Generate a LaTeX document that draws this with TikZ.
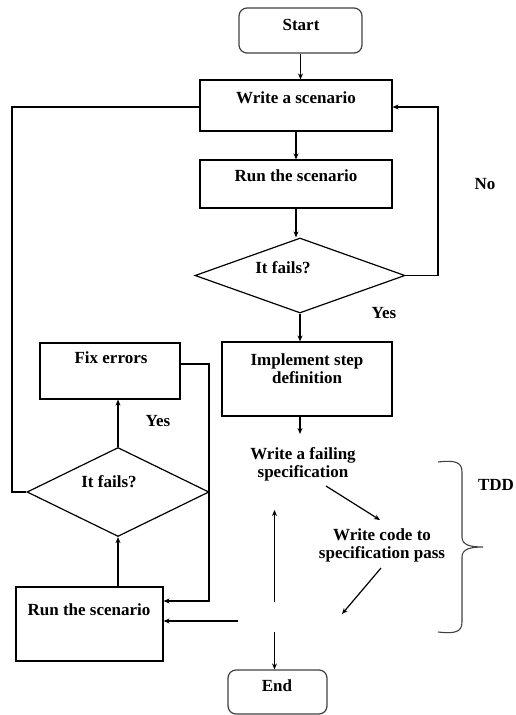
\documentclass[tikz,border=0pt]{standalone}
\usepackage{fontspec}
\setmainfont{Liberation Serif}
\usetikzlibrary{arrows.meta,shapes.geometric}
\begin{document}
\begin{tikzpicture}[x=1pt,y=-1pt,
  line width=1.2pt,
  >={Stealth[length=6pt,width=5pt]},
  txt/.style={font=\fontsize{17}{18}\selectfont\bfseries, inner sep=0pt, align=center},
  box/.style={draw, rectangle, inner sep=0pt},
  term/.style={draw, rectangle, rounded corners=8pt, inner sep=0pt, draw=black!75},
  dec/.style={draw, diamond, inner sep=0pt},
  flow/.style={->}]
\useasboundingbox (0,0) rectangle (515,715);

% main column
\node[term, minimum width=123pt, minimum height=45pt] (start) at (300.5,30.5) {};
\node[txt] (startt) at (301,25) {Start};
\node[box, minimum width=192pt, minimum height=51pt] (ws) at (296,105.5) {};
\node[txt] (wst) at (296,98) {Write a scenario};
\node[box, minimum width=192pt, minimum height=48pt] (rs) at (296,184) {};
\node[txt] (rst) at (296,176) {Run the scenario};
\node[dec, minimum width=210pt, minimum height=75pt] (d1) at (300,275.5) {};
\node[txt] (d1t) at (283,268) {It fails?};
\node[box, minimum width=170pt, minimum height=74pt] (isd) at (307,379) {};
\node[txt] (isdt) at (307,369) {Implement step\\definition};
\node[txt] (wfs) at (303,464) {Write a failing\\specification};
\node[txt] (wcp) at (382,545) {Write code to\\specification pass};
\node[term, minimum width=99pt, minimum height=44pt] (end) at (277.5,692) {};
\node[txt] (endt) at (277,686) {End};

% left column
\node[box, minimum width=140pt, minimum height=56pt] (fe) at (110,371) {};
\node[txt] (fet) at (111,358) {Fix errors};
\node[dec, minimum width=182pt, minimum height=89pt] (d2) at (118,492) {};
\node[txt] (d2t) at (109,482) {It fails?};
\node[box, minimum width=147pt, minimum height=74pt] (rs2) at (89.5,624) {};
\node[txt] (rs2t) at (89,610) {Run the scenario};

% branch labels
\node[txt] (no) at (485,184) {No};
\node[txt] (yes1) at (384,313) {Yes};
\node[txt] (yes2) at (158,421) {Yes};
\node[txt] (tdd) at (496,485) {TDD};

% main flow
\draw[flow] (start.south) -- (start.south |- ws.north);
\draw[flow] (ws) -- (rs);
\draw[flow] (rs.south) -- (rs.south |- d1.north);
\draw[flow] (d1.south) -- (d1.south |- isd.north);
\coordinate (isdend) at (300,434);
\draw[flow] (isd.south -| isdend) -- (isdend);
\draw[flow] (d1.east) -- (438,275.5) |- ([yshift=-1.5pt]ws.east);
\draw (d2.west) -- (12,492) |- ([yshift=-1.5pt]ws.west);

% TDD cycle
\coordinate (a1) at (326,486);
\coordinate (a2) at (380,520);
\draw[flow] (a1) -- (a2);
\coordinate (b1) at (381,568);
\coordinate (b2) at (342,614);
\draw[flow] (b1) -- (b2);
\coordinate (c1) at (274.5,602);
\coordinate (c2) at (274.5,510);
\draw[flow] (c1) -- (c2);
\coordinate (e1) at (274.5,632);
\draw[flow] (e1) -- (end.north -| e1);
\coordinate (m) at (238,621);
\draw[flow] (m) -- ([yshift=3pt]rs2.east);

% fix loop
\draw[flow] (rs2.north -| d2.south) -- (d2.south);
\draw[flow] (d2.north) -- (d2.north |- fe.south);
\draw[flow] ([yshift=7pt]fe.east) -- (209,364) |- ([yshift=23pt]rs2.east);

% TDD brace
\draw[line width=1.1pt, draw=black!75]
  (438,462) .. controls (455,460) and (462,462) .. (462,472) -- (462,537)
  .. controls (462,545) and (470,547) .. (483,547)
  .. controls (470,547) and (462,549) .. (462,557) -- (462,622)
  .. controls (462,632) and (455,634) .. (438,632);
\end{tikzpicture}
\end{document}
